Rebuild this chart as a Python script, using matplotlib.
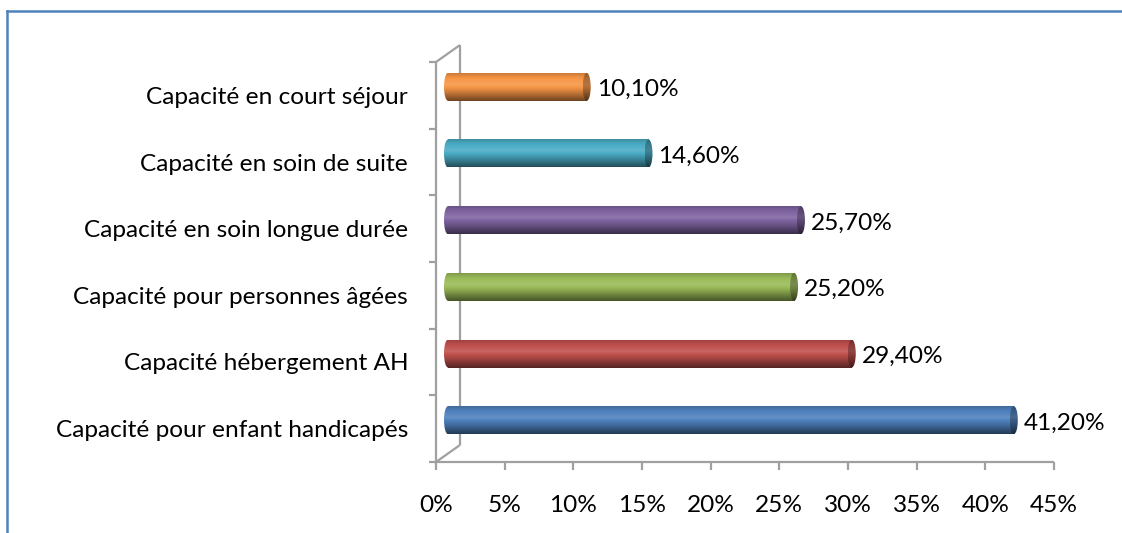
import numpy as np
import matplotlib
matplotlib.use("Agg")
import matplotlib.pyplot as plt
from matplotlib.patches import Ellipse
from matplotlib.colors import to_rgb

# data (bottom to top)
categories = ["Capacité pour enfant handicapés", "Capacité hébergement AH",
              "Capacité pour personnes âgées", "Capacité en soin longue durée",
              "Capacité en soin de suite", "Capacité en court séjour"]
values = [41.2, 29.4, 25.2, 25.7, 14.6, 10.1]
value_labels = ["41,20%", "29,40%", "25,20%", "25,70%", "14,60%", "10,10%"]
colors = ["#4f81bd", "#c0504d", "#9bbb59", "#8064a2", "#4bacc6", "#f79646"]
xticks = [0, 5, 10, 15, 20, 25, 30, 35, 40, 45]

plt.rcParams["font.family"] = ["Lato", "DejaVu Sans"]
FS = 17.6
W, H = 1122, 533
fig = plt.figure(figsize=(W / 100, H / 100), dpi=100)

# border (only top and left edges are visible in the crop)
fig.add_artist(plt.Line2D([7 / W, 7 / W], [0, 1 - 11 / H], transform=fig.transFigure,
                          color="#4f81bd", lw=1.8))
fig.add_artist(plt.Line2D([7 / W, 1], [1 - 11 / H, 1 - 11 / H], transform=fig.transFigure,
                          color="#4f81bd", lw=1.8))

x0p, x1p, y0p, y1p = 436, 1054, 462, 62
ax = fig.add_axes([x0p / W, 1 - y0p / H, (x1p - x0p) / W, (y0p - y1p) / H])
ax.set_xlim(0, 45)
ax.set_ylim(-0.5, 5.5)
for s in ax.spines.values():
    s.set_visible(False)

pxx = (x1p - x0p) / 45.0
pxy = (y0p - y1p) / 6.0
dx = 24 / pxx
dy = 17 / pxy
gray = "#a0a0a0"
lw = 1.6

wall = dict(color=gray, lw=lw, clip_on=False, solid_capstyle="butt")
ax.plot([0, 0], [-0.5, 5.5], **wall)
ax.plot([0, dx], [5.5, 5.5 + dy], **wall)
ax.plot([dx, dx], [5.5 + dy, -0.5 + dy], **wall)
ax.plot([0, dx], [-0.5, -0.5 + dy], **wall)
ax.plot([0, 45], [-0.5, -0.5], **wall)

ax.set_xticks(xticks)
ax.set_xticklabels([f"{t}%" for t in xticks], fontsize=FS)
ax.tick_params(axis="x", length=6, width=lw, color=gray, pad=18)
ax.set_yticks(np.arange(-0.5, 6, 1.0), minor=True)
ax.set_yticks(range(len(categories)))
ax.set_yticklabels(categories, fontsize=FS)
ax.tick_params(axis="y", which="major", length=0, pad=20)
ax.tick_params(axis="y", which="minor", length=5, width=lw, color=gray)


def shade(base, n=64):
    c = np.array(to_rgb(base))
    t = np.linspace(0, 1, n)
    f = np.interp(t, [0, 0.15, 0.4, 0.7, 1.0], [0.82, 0.97, 1.12, 0.8, 0.45])
    out = np.empty((n, 1, 3))
    for k, fk in enumerate(f):
        out[k, 0] = c + (1 - c) * (fk - 1) if fk > 1 else c * fk
    return np.clip(out, 0, 1)


bh = 28 / pxy
ew = 8 / pxx
for i, (v, col) in enumerate(zip(values, colors)):
    xs = dx / 2
    xe = v + dx / 2
    yc = i + dy / 2
    img = shade(col)
    ax.imshow(img, extent=[xs, xe, yc - bh / 2, yc + bh / 2], aspect="auto",
              origin="upper", zorder=3, interpolation="bilinear")
    # left rounded end
    el = Ellipse((xs, yc), ew, bh, facecolor="none", edgecolor="none")
    ax.add_patch(el)
    im2 = ax.imshow(img, extent=[xs - ew / 2, xs + 0.01, yc - bh / 2, yc + bh / 2],
                    aspect="auto", origin="upper", zorder=3, interpolation="bilinear")
    im2.set_clip_path(el)
    # right cap
    er = Ellipse((xe, yc), ew, bh, facecolor="none", edgecolor="none")
    ax.add_patch(er)
    im3 = ax.imshow(img * 0.72, extent=[xe - ew / 2, xe + ew / 2, yc - bh / 2, yc + bh / 2],
                    aspect="auto", origin="upper", zorder=4, interpolation="bilinear")
    im3.set_clip_path(er)
    ax.annotate(value_labels[i], (xe + ew / 2, yc), xytext=(6, -3), textcoords="offset pixels",
                fontsize=FS, va="center", ha="left", annotation_clip=False)

ax.set_xlim(0, 45)
ax.set_ylim(-0.5, 5.5)
fig.savefig("out.png", dpi=100)
